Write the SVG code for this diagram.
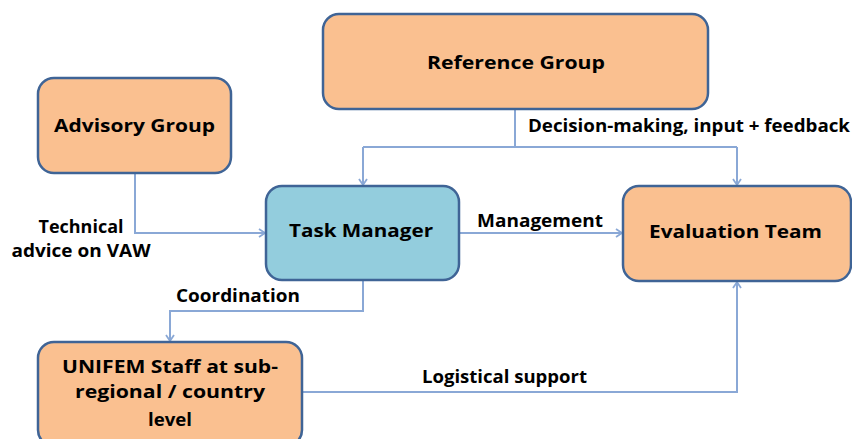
<svg xmlns="http://www.w3.org/2000/svg" width="852" height="439" viewBox="0 0 852 439">
<style>
.box{stroke:#3F6496;stroke-width:2.5}
.org{fill:#FAC090}
.blu{fill:#93CDDD}
.t{font-family:"Open Sans","Liberation Sans",sans-serif;font-weight:700;fill:#000}
.n{font-size:18.5px}
.l{font-size:17px}
.c{fill:none;stroke:#8AA8D6;stroke-width:2}
</style>
<defs>
<marker id="ah" markerWidth="10" markerHeight="10" refX="8" refY="5" orient="auto" markerUnits="userSpaceOnUse">
<path d="M2,1 L8,5 L2,9" fill="none" stroke="#8AA8D6" stroke-width="1.8"/>
</marker>
</defs>
<rect width="852" height="439" fill="#fff"/>
<g id="connectors">
<path class="c" d="M515,109 V147"/>
<path class="c" d="M363,147 H737"/>
<path class="c" d="M363,147 V185" marker-end="url(#ah)"/>
<path class="c" d="M737,147 V185" marker-end="url(#ah)"/>
<path class="c" d="M135,173 V233 H265" marker-end="url(#ah)"/>
<path class="c" d="M459,233 H622" marker-end="url(#ah)"/>
<path class="c" d="M363,281 V311 H170 V341" marker-end="url(#ah)"/>
<path class="c" d="M302,392 H737 V282" marker-end="url(#ah)"/>
<text class="t l" x="528" y="132" textLength="322" lengthAdjust="spacingAndGlyphs">Decision-making, input + feedback</text>
<text class="t l" x="81" y="233" text-anchor="middle" textLength="85" lengthAdjust="spacingAndGlyphs">Technical</text>
<text class="t l" x="81" y="257" text-anchor="middle" textLength="139" lengthAdjust="spacingAndGlyphs">advice on VAW</text>
<text class="t l" x="477" y="227" textLength="126" lengthAdjust="spacingAndGlyphs">Management</text>
<text class="t l" x="176" y="302" textLength="124" lengthAdjust="spacingAndGlyphs">Coordination</text>
<text class="t l" x="422" y="383" textLength="165" lengthAdjust="spacingAndGlyphs">Logistical support</text>
</g>
<g id="reference-group">
<rect class="box org" x="323" y="14" width="385" height="95" rx="16"/>
<text class="t n" x="427" y="69" textLength="178" lengthAdjust="spacingAndGlyphs">Reference Group</text>
</g>
<g id="advisory-group">
<rect class="box org" x="38" y="78" width="193" height="95" rx="16"/>
<text class="t n" x="54" y="132" textLength="161" lengthAdjust="spacingAndGlyphs">Advisory Group</text>
</g>
<g id="task-manager">
<rect class="box blu" x="266" y="186" width="193" height="94" rx="16"/>
<text class="t n" x="289" y="237" textLength="144" lengthAdjust="spacingAndGlyphs">Task Manager</text>
</g>
<g id="evaluation-team">
<rect class="box org" x="623" y="186" width="228" height="95" rx="16"/>
<text class="t n" x="649" y="238" textLength="173" lengthAdjust="spacingAndGlyphs">Evaluation Team</text>
</g>
<g id="unifem-staff">
<rect class="box org" x="38" y="342" width="264" height="104" rx="16"/>
<text class="t n" x="62" y="373" textLength="216" lengthAdjust="spacingAndGlyphs">UNIFEM Staff at sub-</text>
<text class="t n" x="170" y="398" text-anchor="middle" textLength="190" lengthAdjust="spacingAndGlyphs">regional / country</text>
<text class="t n" x="170" y="426" text-anchor="middle" textLength="44" lengthAdjust="spacingAndGlyphs">level</text>
</g>
</svg>
